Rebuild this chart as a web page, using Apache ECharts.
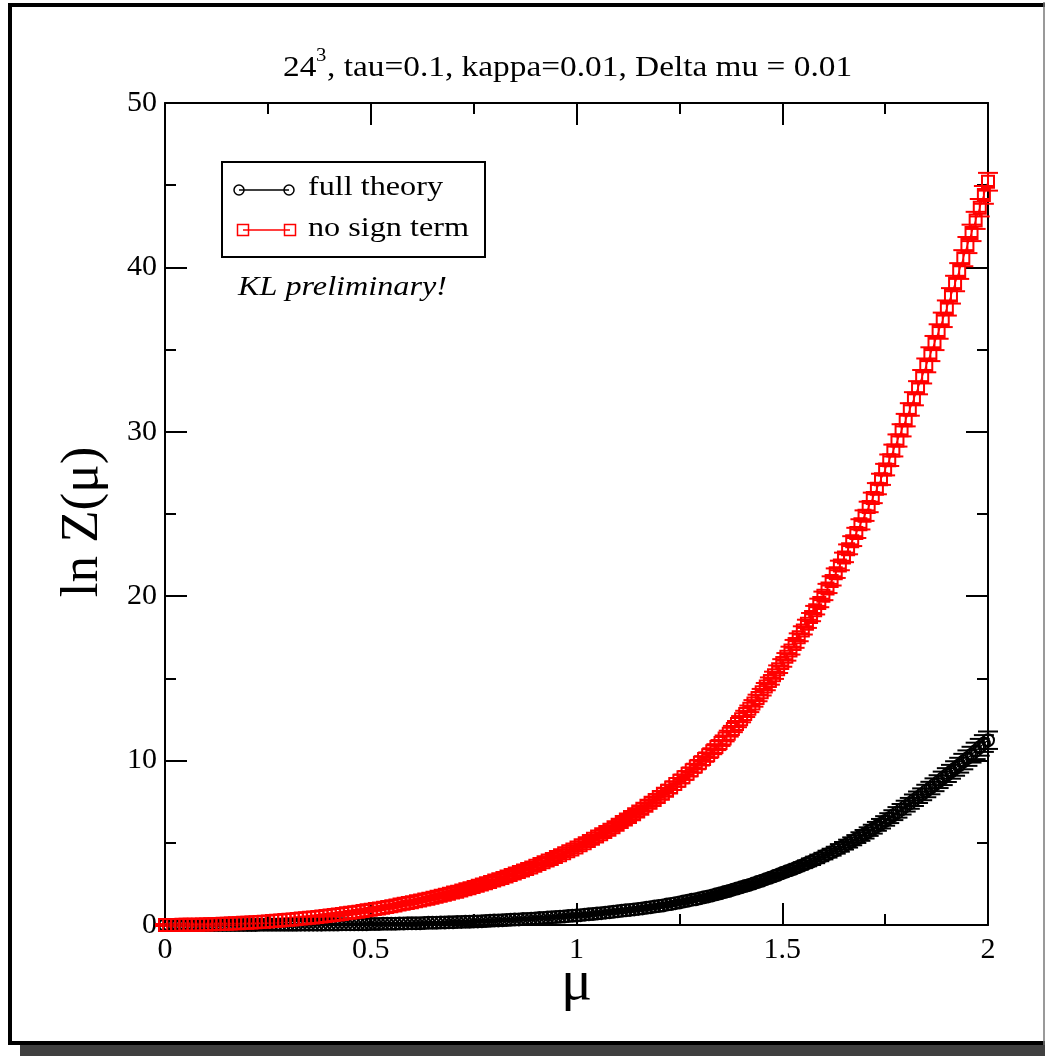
<!DOCTYPE html>
<html>
<head>
<meta charset="utf-8">
<title>ln Z(mu)</title>
<script src="https://cdn.jsdelivr.net/npm/echarts@6/dist/echarts.min.js"></script>
<style>
html, body { margin: 0; padding: 0; background: #fff; }
#main { width: 1045px; height: 1056px; }
</style>
</head>
<body>
<div id="main"></div>
<script>
// mu grid, Delta mu = 0.01
var mu = [
  0,0.01,0.02,0.03,0.04,0.05,0.06,0.07,0.08,0.09,
  0.10,0.11,0.12,0.13,0.14,0.15,0.16,0.17,0.18,0.19,
  0.20,0.21,0.22,0.23,0.24,0.25,0.26,0.27,0.28,0.29,
  0.30,0.31,0.32,0.33,0.34,0.35,0.36,0.37,0.38,0.39,
  0.40,0.41,0.42,0.43,0.44,0.45,0.46,0.47,0.48,0.49,
  0.50,0.51,0.52,0.53,0.54,0.55,0.56,0.57,0.58,0.59,
  0.60,0.61,0.62,0.63,0.64,0.65,0.66,0.67,0.68,0.69,
  0.70,0.71,0.72,0.73,0.74,0.75,0.76,0.77,0.78,0.79,
  0.80,0.81,0.82,0.83,0.84,0.85,0.86,0.87,0.88,0.89,
  0.90,0.91,0.92,0.93,0.94,0.95,0.96,0.97,0.98,0.99,
  1.00,1.01,1.02,1.03,1.04,1.05,1.06,1.07,1.08,1.09,
  1.10,1.11,1.12,1.13,1.14,1.15,1.16,1.17,1.18,1.19,
  1.20,1.21,1.22,1.23,1.24,1.25,1.26,1.27,1.28,1.29,
  1.30,1.31,1.32,1.33,1.34,1.35,1.36,1.37,1.38,1.39,
  1.40,1.41,1.42,1.43,1.44,1.45,1.46,1.47,1.48,1.49,
  1.50,1.51,1.52,1.53,1.54,1.55,1.56,1.57,1.58,1.59,
  1.60,1.61,1.62,1.63,1.64,1.65,1.66,1.67,1.68,1.69,
  1.70,1.71,1.72,1.73,1.74,1.75,1.76,1.77,1.78,1.79,
  1.80,1.81,1.82,1.83,1.84,1.85,1.86,1.87,1.88,1.89,
  1.90,1.91,1.92,1.93,1.94,1.95,1.96,1.97,1.98,1.99,
  2.00
];

// full theory
var fullTheory = [
  0,0,0,0,0,0,0,0,0,0,
  0,0,0,0,0,0,0,0,0,0,
  0,0,0,0.01,0.01,0.01,0.01,0.01,0.01,0.01,
  0.01,0.01,0.01,0.02,0.02,0.02,0.02,0.02,0.02,0.03,
  0.03,0.03,0.03,0.04,0.04,0.04,0.04,0.05,0.05,0.05,
  0.06,0.06,0.06,0.07,0.07,0.08,0.08,0.09,0.09,0.10,
  0.10,0.11,0.11,0.12,0.13,0.13,0.14,0.15,0.15,0.16,
  0.17,0.18,0.19,0.20,0.20,0.21,0.22,0.23,0.24,0.26,
  0.27,0.28,0.29,0.30,0.32,0.33,0.34,0.36,0.37,0.38,
  0.40,0.42,0.43,0.45,0.47,0.48,0.50,0.52,0.54,0.56,
  0.58,0.60,0.63,0.65,0.67,0.70,0.72,0.75,0.77,0.80,
  0.83,0.86,0.89,0.92,0.95,0.98,1.01,1.05,1.08,1.12,
  1.15,1.19,1.24,1.28,1.33,1.37,1.43,1.47,1.53,1.57,
  1.63,1.69,1.74,1.80,1.87,1.93,2.00,2.07,2.15,2.22,
  2.29,2.37,2.44,2.52,2.61,2.69,2.79,2.87,2.96,3.06,
  3.16,3.25,3.34,3.44,3.54,3.64,3.75,3.85,3.96,4.08,
  4.19,4.31,4.43,4.55,4.69,4.82,4.95,5.09,5.23,5.38,
  5.52,5.68,5.83,6.00,6.16,6.33,6.50,6.68,6.85,7.04,
  7.23,7.40,7.59,7.77,7.95,8.15,8.33,8.53,8.72,8.92,
  9.12,9.32,9.52,9.72,9.94,10.15,10.36,10.59,10.81,11.04,
  11.24
];
var fullTheoryErr = [
  0.03,0.03,0.03,0.03,0.03,0.03,0.03,0.03,0.03,0.03,
  0.03,0.03,0.03,0.03,0.03,0.03,0.03,0.03,0.03,0.03,
  0.03,0.03,0.03,0.03,0.03,0.03,0.03,0.03,0.03,0.03,
  0.03,0.03,0.03,0.03,0.03,0.03,0.03,0.03,0.03,0.03,
  0.03,0.03,0.03,0.03,0.03,0.03,0.03,0.03,0.03,0.03,
  0.03,0.03,0.03,0.03,0.03,0.03,0.03,0.03,0.03,0.03,
  0.03,0.03,0.03,0.03,0.03,0.03,0.03,0.03,0.03,0.03,
  0.05,0.05,0.05,0.05,0.05,0.05,0.05,0.05,0.05,0.05,
  0.05,0.05,0.05,0.05,0.05,0.05,0.05,0.05,0.05,0.05,
  0.05,0.05,0.05,0.05,0.05,0.05,0.06,0.06,0.06,0.06,
  0.06,0.06,0.06,0.06,0.06,0.06,0.06,0.06,0.06,0.06,
  0.06,0.08,0.08,0.08,0.08,0.08,0.08,0.08,0.08,0.08,
  0.08,0.09,0.09,0.09,0.09,0.09,0.09,0.09,0.09,0.11,
  0.11,0.11,0.11,0.11,0.11,0.12,0.12,0.12,0.12,0.12,
  0.12,0.14,0.14,0.14,0.14,0.14,0.15,0.15,0.15,0.15,
  0.17,0.17,0.17,0.17,0.18,0.18,0.18,0.20,0.20,0.20,
  0.20,0.21,0.21,0.21,0.23,0.23,0.24,0.24,0.24,0.26,
  0.26,0.26,0.27,0.27,0.29,0.29,0.30,0.30,0.32,0.32,
  0.33,0.33,0.35,0.35,0.36,0.38,0.38,0.39,0.39,0.41,
  0.42,0.42,0.44,0.45,0.47,0.47,0.48,0.50,0.51,0.51,
  0.53
];

// no sign term
var noSign = [
  0,0,0,0,0.01,0.01,0.01,0.02,0.02,0.03,
  0.03,0.04,0.05,0.06,0.07,0.08,0.09,0.10,0.11,0.13,
  0.14,0.15,0.17,0.18,0.20,0.22,0.24,0.26,0.28,0.30,
  0.32,0.34,0.36,0.39,0.41,0.44,0.46,0.49,0.52,0.55,
  0.58,0.61,0.64,0.67,0.71,0.74,0.78,0.81,0.85,0.89,
  0.93,0.97,1.01,1.05,1.10,1.14,1.19,1.24,1.29,1.34,
  1.39,1.44,1.49,1.55,1.60,1.66,1.72,1.78,1.84,1.90,
  1.97,2.03,2.10,2.17,2.24,2.31,2.39,2.46,2.54,2.62,
  2.70,2.78,2.86,2.95,3.04,3.13,3.22,3.31,3.41,3.50,
  3.60,3.71,3.81,3.92,4.02,4.13,4.25,4.36,4.48,4.60,
  4.72,4.85,4.98,5.11,5.24,5.38,5.52,5.66,5.80,5.95,
  6.10,6.26,6.41,6.57,6.74,6.90,7.07,7.25,7.43,7.61,
  7.79,7.98,8.17,8.37,8.57,8.78,8.99,9.20,9.42,9.64,
  9.87,10.10,10.33,10.57,10.82,11.07,11.35,11.64,11.92,12.22,
  12.52,12.84,13.15,13.48,13.81,14.16,14.50,14.84,15.19,15.56,
  15.94,16.31,16.69,17.10,17.50,17.92,18.32,18.73,19.15,19.59,
  20.02,20.47,20.93,21.40,21.87,22.36,22.85,23.35,23.85,24.37,
  24.90,25.43,25.98,26.54,27.11,27.70,28.27,28.86,29.47,30.09,
  30.71,31.36,32.01,32.68,33.35,34.04,34.72,35.40,36.10,36.81,
  37.53,38.27,39.02,39.78,40.56,41.36,42.10,42.86,43.63,44.41,
  45.21
];
var noSignErr = [
  0.06,0.06,0.06,0.06,0.06,0.06,0.06,0.06,0.06,0.06,
  0.06,0.06,0.06,0.06,0.06,0.06,0.06,0.06,0.06,0.06,
  0.06,0.06,0.06,0.06,0.06,0.06,0.06,0.06,0.06,0.06,
  0.06,0.06,0.06,0.06,0.06,0.06,0.06,0.06,0.06,0.06,
  0.07,0.07,0.07,0.07,0.07,0.07,0.07,0.07,0.07,0.07,
  0.07,0.07,0.07,0.07,0.07,0.07,0.07,0.07,0.07,0.07,
  0.07,0.07,0.07,0.07,0.07,0.07,0.08,0.08,0.08,0.08,
  0.08,0.08,0.08,0.08,0.08,0.08,0.08,0.08,0.08,0.08,
  0.08,0.10,0.10,0.10,0.10,0.10,0.10,0.10,0.10,0.10,
  0.10,0.10,0.10,0.11,0.11,0.11,0.11,0.11,0.11,0.11,
  0.11,0.11,0.11,0.12,0.12,0.12,0.12,0.12,0.12,0.12,
  0.12,0.13,0.13,0.13,0.13,0.13,0.13,0.14,0.14,0.14,
  0.14,0.14,0.14,0.16,0.16,0.16,0.16,0.16,0.16,0.17,
  0.17,0.17,0.17,0.18,0.18,0.18,0.18,0.18,0.19,0.19,
  0.19,0.19,0.20,0.20,0.20,0.20,0.22,0.22,0.22,0.23,
  0.23,0.23,0.24,0.24,0.24,0.25,0.25,0.25,0.26,0.26,
  0.26,0.28,0.28,0.29,0.29,0.29,0.30,0.30,0.31,0.31,
  0.32,0.32,0.32,0.34,0.34,0.35,0.35,0.36,0.37,0.37,
  0.38,0.38,0.40,0.40,0.41,0.42,0.42,0.43,0.44,0.44,
  0.46,0.47,0.47,0.48,0.49,0.49,0.50,0.52,0.53,0.54,
  0.54
];

var serif = '"Liberation Serif", "Times New Roman", serif';

var chart = echarts.init(document.getElementById('main'), null, { renderer: 'canvas' });

function pairs(vals) {
  var out = [];
  for (var i = 0; i < mu.length; i++) out.push([mu[i], vals[i]]);
  return out;
}

function errorBars(vals, errs, color, cap) {
  var data = [];
  for (var i = 0; i < mu.length; i++) data.push([mu[i], vals[i] - errs[i], vals[i] + errs[i]]);
  return {
    type: 'custom',
    data: data,
    silent: true,
    z: 2,
    encode: { x: 0, y: [1, 2] },
    renderItem: function (params, api) {
      var lo = api.coord([api.value(0), api.value(1)]);
      var hi = api.coord([api.value(0), api.value(2)]);
      var h = cap / 2;
      var st = { stroke: color, lineWidth: 2 };
      return {
        type: 'group',
        children: [
          { type: 'line', shape: { x1: lo[0], y1: lo[1], x2: hi[0], y2: hi[1] }, style: st },
          { type: 'line', shape: { x1: lo[0] - h, y1: lo[1], x2: lo[0] + h, y2: lo[1] }, style: st },
          { type: 'line', shape: { x1: hi[0] - h, y1: hi[1], x2: hi[0] + h, y2: hi[1] }, style: st }
        ]
      };
    }
  };
}

var axisLine = { show: true, onZero: false, lineStyle: { color: '#000', width: 2 } };
var tick = { show: true, inside: true, length: 22, lineStyle: { color: '#000', width: 2 } };
var minor = { show: true, splitNumber: 2, length: 11, lineStyle: { color: '#000', width: 2 } };
var labelStyle = { color: '#000', fontFamily: serif, fontSize: 30 };

var option = {
  animation: false,
  backgroundColor: '#fff',
  grid: { left: 165, right: 57, top: 103, bottom: 131, containLabel: false, outerBoundsMode: 'none' },
  xAxis: [
    {
      type: 'value', position: 'bottom', min: 0, max: 2, interval: 0.5,
      axisLine: axisLine, axisTick: tick, minorTick: minor,
      splitLine: { show: false }, minorSplitLine: { show: false },
      axisLabel: Object.assign({ margin: 10 }, labelStyle),
      name: 'μ', nameLocation: 'middle', nameGap: 30, nameMoveOverlap: false,
      nameTextStyle: { color: '#000', fontFamily: serif, fontSize: 58 }
    },
    {
      type: 'value', position: 'top', min: 0, max: 2, interval: 0.5,
      axisLine: axisLine, axisTick: tick, minorTick: minor,
      splitLine: { show: false }, minorSplitLine: { show: false },
      axisLabel: { show: false }
    }
  ],
  yAxis: [
    {
      type: 'value', position: 'left', min: 0, max: 50, interval: 10,
      axisLine: axisLine, axisTick: tick, minorTick: minor,
      splitLine: { show: false }, minorSplitLine: { show: false },
      axisLabel: Object.assign({ margin: 8 }, labelStyle),
      name: 'ln Z(μ)', nameLocation: 'middle', nameGap: 55, nameRotate: 90,
      nameTextStyle: { color: '#000', fontFamily: serif, fontSize: 53, padding: [0, 16, 0, 0] }
    },
    {
      type: 'value', position: 'right', min: 0, max: 50, interval: 10,
      axisLine: axisLine, axisTick: tick, minorTick: minor,
      splitLine: { show: false }, minorSplitLine: { show: false },
      axisLabel: { show: false }
    }
  ],
  series: [
    errorBars(fullTheory, fullTheoryErr, '#000', 20),
    {
      name: 'full theory', type: 'line', data: pairs(fullTheory),
      symbol: 'circle', symbolSize: 12, showAllSymbol: true, z: 3,
      lineStyle: { color: '#000', width: 1.2 },
      itemStyle: { color: 'rgba(0,0,0,0)', borderColor: '#000', borderWidth: 2 },
      emphasis: { disabled: true }
    },
    errorBars(noSign, noSignErr, '#f00', 20),
    {
      name: 'no sign term', type: 'line', data: pairs(noSign),
      symbol: 'rect', symbolSize: 12, showAllSymbol: true, z: 3,
      lineStyle: { color: '#f00', width: 1.2 },
      itemStyle: { color: 'rgba(0,0,0,0)', borderColor: '#f00', borderWidth: 2 },
      emphasis: { disabled: true }
    }
  ],
  graphic: [
    // page frame and shadow
    { type: 'rect', shape: { x: 20, y: 1045, width: 1030, height: 12 }, style: { fill: '#404040' }, silent: true },
    { type: 'rect', shape: { x: 10, y: 5, width: 1045, height: 1038 }, style: { fill: 'none', stroke: '#000', lineWidth: 4 }, silent: true },
    { type: 'line', shape: { x1: 1044, y1: 2, x2: 1044, y2: 1045 }, style: { stroke: '#777', lineWidth: 1.5 }, silent: true },
    // title
    { type: 'text', x: 283, y: 68, scaleX: 1.15, style: { text: '24', font: '29px ' + serif, fill: '#000', align: 'left', verticalAlign: 'middle' } },
    { type: 'text', x: 316, y: 56, scaleX: 1.15, style: { text: '3', font: '18px ' + serif, fill: '#000', align: 'left', verticalAlign: 'middle' } },
    { type: 'text', x: 327, y: 68, scaleX: 1.15, style: { text: ', tau=0.1, kappa=0.01, Delta mu = 0.01', font: '29px ' + serif, fill: '#000', align: 'left', verticalAlign: 'middle' } },
    // legend box
    { type: 'rect', shape: { x: 222, y: 162, width: 263, height: 95 }, style: { fill: '#fff', stroke: '#000', lineWidth: 2 }, z: 10 },
    { type: 'line', shape: { x1: 239, y1: 190, x2: 289, y2: 190 }, style: { stroke: '#000', lineWidth: 1.5 }, z: 11 },
    { type: 'circle', shape: { cx: 239, cy: 190, r: 5 }, style: { fill: 'none', stroke: '#000', lineWidth: 1.5 }, z: 11 },
    { type: 'circle', shape: { cx: 289, cy: 190, r: 5 }, style: { fill: 'none', stroke: '#000', lineWidth: 1.5 }, z: 11 },
    { type: 'line', shape: { x1: 243, y1: 230, x2: 290, y2: 230 }, style: { stroke: '#f00', lineWidth: 1.5 }, z: 11 },
    { type: 'rect', shape: { x: 237.5, y: 224.5, width: 11, height: 11 }, style: { fill: 'none', stroke: '#f00', lineWidth: 1.5 }, z: 11 },
    { type: 'rect', shape: { x: 284.5, y: 224.5, width: 11, height: 11 }, style: { fill: 'none', stroke: '#f00', lineWidth: 1.5 }, z: 11 },
    { type: 'text', x: 308, y: 188, scaleX: 1.15, z: 11, style: { text: 'full theory', font: '28px ' + serif, fill: '#000', align: 'left', verticalAlign: 'middle' } },
    { type: 'text', x: 308, y: 229, scaleX: 1.15, z: 11, style: { text: 'no sign term', font: '28px ' + serif, fill: '#000', align: 'left', verticalAlign: 'middle' } },
    // annotation
    { type: 'text', x: 238, y: 288, scaleX: 1.15, style: { text: 'KL preliminary!', font: 'italic 28px ' + serif, fill: '#000', align: 'left', verticalAlign: 'middle' } }
  ]
};

chart.setOption(option);
</script>
</body>
</html>
